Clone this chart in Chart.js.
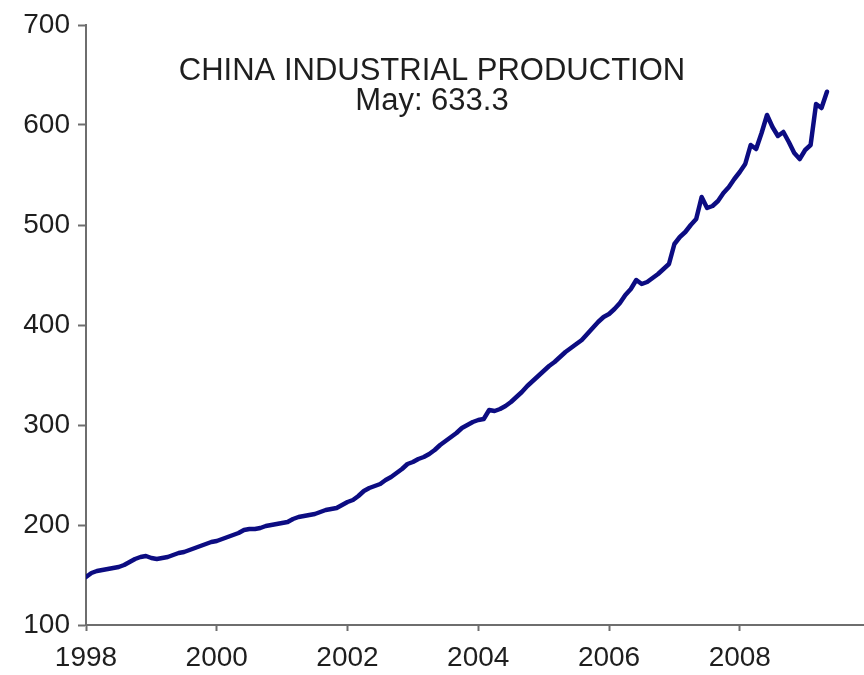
<!DOCTYPE html>
<html>
<head>
<meta charset="utf-8">
<title>China Industrial Production</title>
<script src="https://cdn.jsdelivr.net/npm/chart.js@4/dist/chart.umd.min.js"></script>
<style>
  html, body { margin: 0; padding: 0; background: #ffffff; }
  #wrap { width: 864px; height: 675px; position: relative; }
</style>
</head>
<body>
<div id="wrap"><canvas id="chart" width="864" height="675"></canvas></div>
<script>
// Monthly index, January 1998 through May 2009
const startYear = 1998;
const titleText = 'CHINA INDUSTRIAL PRODUCTION';
const lastMonthName = 'May';

const ip1998 = [148, 152, 154, 155, 156, 157, 158, 160, 163, 166, 168, 169];
const ip1999 = [167, 166, 167, 168, 170, 172, 173, 175, 177, 179, 181, 183];
const ip2000 = [184, 186, 188, 190, 192, 195, 196, 196, 197, 199, 200, 201];
const ip2001 = [202, 203, 206, 208, 209, 210, 211, 213, 215, 216, 217, 220];
const ip2002 = [223, 225, 229, 234, 237, 239, 241, 245, 248, 252, 256, 261];
const ip2003 = [263, 266, 268, 271, 275, 280, 284, 288, 292, 297, 300, 303];
const ip2004 = [305, 306, 315, 314, 316, 319, 323, 328, 333, 339, 344, 349];
const ip2005 = [354, 359, 363, 368, 373, 377, 381, 385, 391, 397, 403, 408];
const ip2006 = [411, 416, 422, 430, 436, 445, 441, 443, 447, 451, 456, 461];
const ip2007 = [481, 488, 493, 500, 506, 528, 517, 519, 524, 532, 538, 546];
const ip2008 = [553, 561, 580, 576, 592, 610, 598, 589, 593, 583, 572, 566];
const ip2009 = [575, 580, 621, 617, 633.3];

const yTicks = [100, 200, 300, 400, 500, 600, 700];
const xTicks = [1998, 2000, 2002, 2004, 2006, 2008];

const series = [].concat(ip1998, ip1999, ip2000, ip2001, ip2002, ip2003,
                         ip2004, ip2005, ip2006, ip2007, ip2008, ip2009);
const points = series.map((v, i) => ({ x: startYear + i / 12, y: v }));
const lastValue = series[series.length - 1];

const fontFamily = '"Liberation Sans", Arial, Helvetica, sans-serif';
const axisGray = '#6e6e6e';
const textColor = '#1e1e1e';

// Heading drawn inside the plot, centred on the canvas
const headingPlugin = {
  id: 'heading',
  afterDraw(chart) {
    const ctx = chart.ctx;
    const cx = chart.width / 2;
    ctx.save();
    ctx.fillStyle = textColor;
    ctx.textAlign = 'center';
    ctx.textBaseline = 'middle';
    ctx.font = '31px ' + fontFamily;
    ctx.fillText(titleText, cx, 71);
    ctx.fillText(lastMonthName + ': ' + lastValue.toFixed(1), cx, 101);
    ctx.restore();
  }
};

new Chart(document.getElementById('chart'), {
  type: 'line',
  data: {
    datasets: [{
      data: points,
      borderColor: '#0c0c82',
      borderWidth: 4.5,
      pointRadius: 0,
      tension: 0,
      borderJoinStyle: 'round',
      borderCapStyle: 'round',
      fill: false
    }]
  },
  options: {
    responsive: false,
    animation: false,
    layout: { padding: { top: 25, right: 0, bottom: 0, left: 0 } },
    plugins: {
      legend: { display: false },
      tooltip: { enabled: false },
      title: { display: false }
    },
    scales: {
      x: {
        type: 'linear',
        min: 1998,
        max: 2009.9,
        afterFit(scale) { scale.height = 50; },
        afterBuildTicks(scale) { scale.ticks = xTicks.map(v => ({ value: v })); },
        border: { display: true, color: axisGray, width: 2 },
        grid: { drawOnChartArea: false, drawTicks: true, tickLength: 6, color: axisGray, tickWidth: 2 },
        ticks: {
          padding: 10,
          maxRotation: 0,
          autoSkip: false,
          color: textColor,
          font: { family: fontFamily, size: 28 },
          callback: v => String(v)
        }
      },
      y: {
        type: 'linear',
        min: 100,
        max: 700,
        afterFit(scale) { scale.width = 86; },
        afterBuildTicks(scale) { scale.ticks = yTicks.map(v => ({ value: v })); },
        border: { display: true, color: axisGray, width: 2 },
        grid: { drawOnChartArea: false, drawTicks: true, tickLength: 8, color: axisGray, tickWidth: 2 },
        ticks: {
          padding: 8,
          color: textColor,
          font: { family: fontFamily, size: 28 },
          callback: v => String(v)
        }
      }
    }
  },
  plugins: [headingPlugin]
});
</script>
</body>
</html>
